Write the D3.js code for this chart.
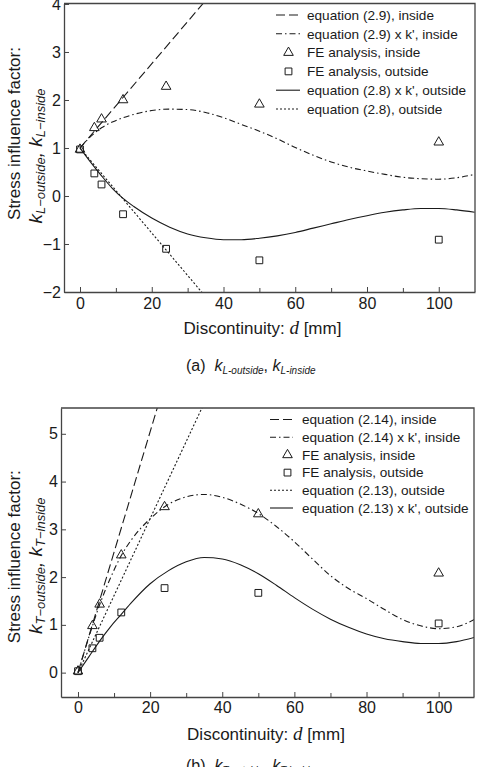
<!DOCTYPE html>
<html><head><meta charset="utf-8">
<script src="https://cdn.jsdelivr.net/npm/d3@7"></script>
<style>
html,body{margin:0;padding:0;background:#fff;}
svg{display:block;}
text{font-family:"Liberation Sans",Arial,sans-serif;fill:#1a1a1a;}
</style></head><body>
<svg id="chart" width="483" height="767"></svg>
<script>
// ---------- DATA ----------
const xTicks = [0, 20, 40, 60, 80, 100];
const xMinorTicks = [10, 30, 50, 70, 90];
const aYTicks = [-2, -1, 0, 1, 2, 3, 4];
const bYTicks = [0, 1, 2, 3, 4, 5];

const feD = [0, 4, 6, 12, 24, 50, 100];
const curveD = [0, 3, 6, 9, 12, 15, 20, 25, 30, 35, 40, 45, 50, 55, 60, 65, 70, 75, 80, 85, 90, 95, 100, 105, 110];

// (a) k_L
const aFEInside  = [0.97, 1.42, 1.60, 2.00, 2.28, 1.91, 1.12];
const aFEOutside = [0.97, 0.47, 0.24, -0.38, -1.10, -1.34, -0.91];
const aEq29D = [0, 40];
const aEq29  = [1.0, 4.51];
const aEq28D = [0, 40];
const aEq28  = [1.0, -2.54];
const aEq29k = [1.00, 1.24, 1.42, 1.54, 1.63, 1.70, 1.78, 1.81, 1.80, 1.74, 1.63, 1.49, 1.35, 1.19, 1.01, 0.85, 0.71, 0.60, 0.52, 0.45, 0.39, 0.36, 0.35, 0.38, 0.45];
const aEq28k = [1.00, 0.70, 0.42, 0.16, -0.05, -0.22, -0.46, -0.65, -0.79, -0.87, -0.91, -0.91, -0.88, -0.83, -0.76, -0.67, -0.58, -0.49, -0.41, -0.34, -0.29, -0.26, -0.26, -0.29, -0.34];

// (b) k_T
const bFEInside  = [0.03, 0.98, 1.43, 2.46, 3.47, 3.32, 2.08];
const bFEOutside = [0.03, 0.51, 0.73, 1.26, 1.77, 1.67, 1.03];
const bEq214D = [0, 24];
const bEq214  = [0, 6.05];
const bEq213D = [0, 40];
const bEq213  = [0, 6.45];
const bEq214k = [0, 0.74, 1.42, 1.98, 2.45, 2.80, 3.22, 3.52, 3.68, 3.73, 3.67, 3.53, 3.33, 3.06, 2.74, 2.38, 2.03, 1.76, 1.55, 1.32, 1.11, 0.98, 0.92, 0.96, 1.12];
const bEq213k = [0, 0.33, 0.66, 0.96, 1.22, 1.48, 1.86, 2.13, 2.32, 2.41, 2.38, 2.26, 2.07, 1.83, 1.57, 1.33, 1.12, 0.95, 0.81, 0.71, 0.65, 0.61, 0.61, 0.65, 0.74];

const aLegend = ["equation (2.9), inside", "equation (2.9) x k', inside", "FE analysis, inside", "FE analysis, outside", "equation (2.8) x k', outside", "equation (2.8), outside"];
const bLegend = ["equation (2.14), inside", "equation (2.14) x k', inside", "FE analysis, inside", "FE analysis, outside", "equation (2.13), outside", "equation (2.13) x k', outside"];

// ---------- STYLES ----------
const INK = "#1a1a1a";
const dashes = { long: "9,4", dashdot: "6,3,1.5,3", dot: "2,2", solid: null };

const svg = d3.select("#chart");

function drawPanel(cfg) {
  const x = d3.scaleLinear().domain(cfg.xDomain).range([cfg.left, cfg.right]);
  const y = d3.scaleLinear().domain(cfg.yDomain).range([cfg.bottom, cfg.top]);
  const g = svg.append("g");
  const clipId = "clip" + cfg.id;
  svg.append("clipPath").attr("id", clipId).append("rect")
    .attr("x", cfg.left).attr("y", cfg.top)
    .attr("width", cfg.right - cfg.left).attr("height", cfg.bottom - cfg.top);

  const line = d3.line().x(d => x(d[0])).y(d => y(d[1])).curve(d3.curveMonotoneX);
  const plot = g.append("g").attr("clip-path", `url(#${clipId})`);

  cfg.series.forEach(s => {
    plot.append("path").datum(d3.zip(s.d, s.v))
      .attr("d", line).attr("fill", "none").attr("stroke", INK)
      .attr("stroke-width", 1.1).attr("stroke-dasharray", dashes[s.style]);
  });

  const tri = d3.symbol().type(d3.symbolTriangle).size(40);
  const sq = d3.symbol().type(d3.symbolSquare).size(46);
  plot.selectAll(".tri").data(d3.zip(feD, cfg.feIn)).join("path")
    .attr("d", tri).attr("transform", d => `translate(${x(d[0])},${y(d[1])})`)
    .attr("fill", "none").attr("stroke", INK).attr("stroke-width", 1);
  plot.selectAll(".sq").data(d3.zip(feD, cfg.feOut)).join("path")
    .attr("d", sq).attr("transform", d => `translate(${x(d[0])},${y(d[1])})`)
    .attr("fill", "none").attr("stroke", INK).attr("stroke-width", 1);

  // axes
  const fmt = v => (v < 0 ? "\u2212" + Math.abs(v) : "" + v);
  const xa = g.append("g").attr("transform", `translate(0,${cfg.bottom})`)
    .call(d3.axisBottom(x).tickValues(xTicks).tickSizeInner(-5).tickSizeOuter(0).tickPadding(cfg.xPad).tickFormat(fmt));
  const xm = g.append("g").attr("transform", `translate(0,${cfg.bottom})`)
    .call(d3.axisBottom(x).tickValues(xMinorTicks).tickSizeInner(-4).tickSizeOuter(0).tickFormat(""));
  xm.select(".domain").remove();
  const ya = g.append("g").attr("transform", `translate(${cfg.left},0)`)
    .call(d3.axisLeft(y).tickValues(cfg.yTicks).tickSizeInner(-5).tickSizeOuter(0).tickPadding(3).tickFormat(fmt));
  [xa, ya, xm].forEach(a => {
    a.selectAll("text").attr("font-size", 16).attr("font-family", '"Liberation Sans",Arial,sans-serif').attr("fill", INK);
    a.selectAll("line").attr("stroke", "#444").attr("stroke-width", 1);
    a.select(".domain").attr("stroke", "#444").attr("stroke-width", 1.3);
  });
  // frame top/right
  g.append("path").attr("d", `M${cfg.left},${cfg.top}H${cfg.right}V${cfg.bottom}`)
    .attr("fill", "none").attr("stroke", "#444").attr("stroke-width", 1.3);

  // legend
  const lg = g.append("g");
  cfg.legend.forEach((label, i) => {
    const cy = cfg.legY0 + i * cfg.legStep;
    const kind = cfg.legKinds[i];
    if (kind === "tri") {
      lg.append("path").attr("d", tri).attr("transform", `translate(${cfg.legMark},${cy})`)
        .attr("fill", "none").attr("stroke", INK);
    } else if (kind === "sq") {
      lg.append("path").attr("d", sq).attr("transform", `translate(${cfg.legMark},${cy})`)
        .attr("fill", "none").attr("stroke", INK);
    } else {
      lg.append("line").attr("x1", cfg.legX1).attr("x2", cfg.legX2).attr("y1", cy).attr("y2", cy)
        .attr("stroke", INK).attr("stroke-width", 1.1).attr("stroke-dasharray", dashes[kind]);
    }
    lg.append("text").attr("x", cfg.legText).attr("y", cy + 4.8).attr("font-size", 13.6).text(label);
  });

  // x title
  const xt = g.append("text").attr("x", cfg.xTitle[0]).attr("y", cfg.xTitle[1]).attr("text-anchor", "middle").attr("font-size", 17);
  xt.append("tspan").text("Discontinuity: ");
  xt.append("tspan").attr("font-family", '"Liberation Serif","Times New Roman",serif').attr("font-style", "italic").attr("font-size", 19).text("d");
  xt.append("tspan").text(" [mm]");

  // y title
  g.append("text").attr("transform", `translate(${cfg.yTitle1[0]},${cfg.yTitle1[1]}) rotate(-90)`)
    .attr("text-anchor", "middle").attr("font-size", 17).text("Stress influence factor:");
  const y2 = g.append("text").attr("transform", `translate(${cfg.yTitle2[0]},${cfg.yTitle2[1]}) rotate(-90)`)
    .attr("text-anchor", "middle").attr("font-family", '"Liberation Serif","Times New Roman",serif').attr("font-style", "italic");
  const sub = cfg.sub;
  y2.append("tspan").attr("font-size", 19).text("k");
  y2.append("tspan").attr("font-size", 13).attr("dy", 3).text(sub + "\u2212outside");
  y2.append("tspan").attr("font-size", 19).attr("dy", -3).text(", k");
  y2.append("tspan").attr("font-size", 13).attr("dy", 3).text(sub + "\u2212inside");

  // caption
  const cap = g.append("text").attr("x", cfg.cap[0]).attr("y", cfg.cap[1])
    .attr("font-family", '"Liberation Serif","Times New Roman",serif').attr("font-size", 16);
  cap.append("tspan").text(cfg.capLabel + "\u00a0\u00a0");
  cap.append("tspan").attr("font-style", "italic").text("k");
  cap.append("tspan").attr("font-style", "italic").attr("font-size", 10).attr("dy", 3).text(sub + "-outside");
  cap.append("tspan").attr("dy", -3).text(", ");
  cap.append("tspan").attr("font-style", "italic").text("k");
  cap.append("tspan").attr("font-style", "italic").attr("font-size", 10).attr("dy", 3).text(sub + "-inside");
}

drawPanel({
  id: "a", left: 64, right: 475, top: 3.5, bottom: 292,
  xDomain: [-4.46, 110.1], yDomain: [-2, 4.01], yTicks: aYTicks, xPad: 5.5,
  series: [
    { d: aEq29D, v: aEq29, style: "long" },
    { d: curveD, v: aEq29k, style: "dashdot" },
    { d: curveD, v: aEq28k, style: "solid" },
    { d: aEq28D, v: aEq28, style: "dot" }
  ],
  feIn: aFEInside, feOut: aFEOutside,
  legend: aLegend, legKinds: ["long", "dashdot", "tri", "sq", "solid", "dot"],
  legY0: 15, legStep: 18.8, legX1: 276, legX2: 300, legMark: 288.5, legText: 307,
  xTitle: [262.5, 334], yTitle1: [20, 133.5], yTitle2: [42, 156],
  sub: "L", cap: [186, 371], capLabel: "(a)"
});

drawPanel({
  id: "b", left: 61, right: 474, top: 408, bottom: 697,
  xDomain: [-4.71, 109.8], yDomain: [-0.51, 5.54], yTicks: bYTicks, xPad: 5,
  series: [
    { d: bEq214D, v: bEq214, style: "long" },
    { d: curveD, v: bEq214k, style: "dashdot" },
    { d: bEq213D, v: bEq213, style: "dot" },
    { d: curveD, v: bEq213k, style: "solid" }
  ],
  feIn: bFEInside, feOut: bFEOutside,
  legend: bLegend, legKinds: ["long", "dashdot", "tri", "sq", "dot", "solid"],
  legY0: 419.5, legStep: 17.7, legX1: 270, legX2: 293, legMark: 287.5, legText: 302,
  xTitle: [266, 740], yTitle1: [20, 556.7], yTitle2: [42, 565.7],
  sub: "T", cap: [186, 771], capLabel: "(b)"
});
</script>
</body></html>
